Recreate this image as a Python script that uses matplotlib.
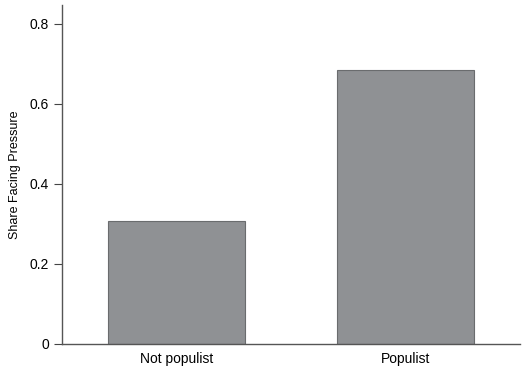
import matplotlib
matplotlib.use("Agg")
import matplotlib.pyplot as plt

categories = ["Not populist", "Populist"]
shares = [0.3075, 0.684]
y_ticks = [0, 0.2, 0.4, 0.6, 0.8]
y_tick_labels = ["0", "0.2", "0.4", "0.6", "0.8"]

plt.rcParams["font.family"] = ["Liberation Sans", "DejaVu Sans"]

fig = plt.figure(figsize=(5.3, 3.71), dpi=100)
ax = fig.add_axes([0.117, 0.0736, 0.864, 0.913])

ax.bar(range(len(categories)), shares, width=0.6,
       color="#8f9194", edgecolor="#6a6c6e", linewidth=0.8)

ax.set_xlim(-0.5, 1.5)
ax.set_ylim(0, 0.847)
ax.set_xticks(range(len(categories)))
ax.set_xticklabels(categories, fontsize=10)
ax.set_yticks(y_ticks)
ax.set_yticklabels(y_tick_labels, fontsize=10)
ax.tick_params(axis="x", length=0, pad=6)
ax.tick_params(axis="y", length=5.5, width=0.8, color="#444444", pad=4)
ax.set_ylabel("Share Facing Pressure", fontsize=9, labelpad=6)

for side in ["top", "right"]:
    ax.spines[side].set_visible(False)
for side in ["left", "bottom"]:
    ax.spines[side].set_color("#555555")
    ax.spines[side].set_linewidth(1.0)

fig.savefig("out.png", dpi=100)
